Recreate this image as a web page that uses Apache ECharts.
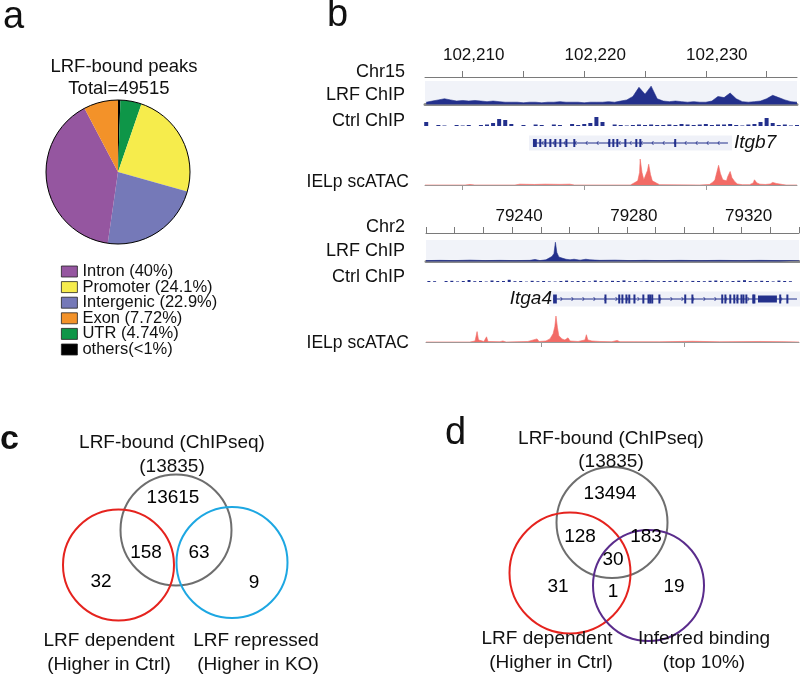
<!DOCTYPE html>
<html><head><meta charset="utf-8">
<script src="https://cdn.jsdelivr.net/npm/echarts@6/dist/echarts.min.js"></script>
<style>html,body{margin:0;padding:0;background:#fff}#c{width:800px;height:676px}</style>
</head><body><div id="c"></div>
<script>
// ---------- Panel a : LRF-bound peak annotation ----------
const pieNames  = ['others(<1%)', 'UTR (4.74%)', 'Promoter (24.1%)', 'Intergenic (22.9%)', 'Intron (40%)', 'Exon (7.72%)'];
const pieValues = [0.54, 4.74, 24.1, 22.9, 40, 7.72];
const legendOrder = ['Intron (40%)', 'Promoter (24.1%)', 'Intergenic (22.9%)', 'Exon (7.72%)', 'UTR (4.74%)', 'others(<1%)'];

// ---------- Panel b : Chr15 (Itgb7) tracks ----------
const chr15Range = [102206.9, 102237.5];
const chr15RulerTicks = [102210, 102215, 102220, 102225, 102230, 102235];
const chr15RulerLabels = [102210, 102220, 102230];
const chr15BottomTicks = [102210, 102220, 102230];
const chr15BinStart = 102207.0, chr15BinSize = 0.5;
const chr15Lrf = [2,3,4,5,4,3,3.5,3,3.5,3,2.5,3,2.5,2,2,2,1.5,2,2,1.5,2,2,2.5,2,2,2,1.5,2,2,2,2.5,2,3,4,7,15,9,16,5,3,2.5,3,2.5,2,2.5,2,2,3,7,6,10,5,2.5,2,2.5,3,5,8,6,4,2.5,2];
const chr15Ctrl = [4,0,1,0.5,0,1,0.5,1,0,1,1.5,3,7,6,2,0,1,0,1.5,1,0,1.5,1,0,2,1,2,3,9,4,0,1.5,1,0.5,1,1.5,1,1.5,1,1,1.5,1,2,1.5,1,1.5,2,1,1.5,1.5,2,1,0.5,1.5,2,4,8,3,1,1.5,0.5,1];
const chr15AtacPos = [102206.9,102210.2,102210.6,102211.0,102214.3,102214.7,102215.9,102216.8,102218.0,102218.8,102219.2,102223.8,102224.1,102224.4,102224.55,102224.6,102224.75,102224.9,102225.0,102225.2,102225.3,102225.45,102225.6,102226.0,102226.2,102229.5,102230.3,102230.6,102230.75,102230.9,102231.05,102231.2,102231.4,102231.7,102231.8,102232.0,102232.15,102232.4,102232.6,102233.0,102233.6,102233.9,102234.0,102234.2,102234.45,102234.9,102235.3,102235.5,102235.8,102236.3,102236.6,102237.5];
const chr15AtacVal = [0,0,0.5,0,0,0.8,0.5,0.8,0.6,0.8,0,0,2,4,12,25,12,5,6,14,20,10,4,1.5,0.3,0,0.5,3,5,12,19,11,5,4,8,13,7,3,1,0.3,0.3,2,5,2,0.8,0.5,1,2.5,1.5,0.5,0,0];
const itgb7Span = [102215.78, 102231.82];
const itgb7Exons = [[102215.78,102216.1],[102216.3,102216.42],[102216.72,102216.84],[102217.13,102217.25],[102217.54,102217.66],[102217.95,102218.07],[102218.45,102218.57],[102219.1,102219.22],[102221.98,102222.1],[102222.31,102222.43],[102222.64,102222.76],[102223.3,102223.42],[102224.2,102224.32],[102224.53,102224.65],[102227.4,102227.55]];

// ---------- Panel b : Chr2 (Itga4) tracks ----------
const chr2Range = [79210, 79340];
const chr2RulerTicks = [79210,79220,79230,79240,79250,79260,79270,79280,79290,79300,79310,79320,79330,79340];
const chr2RulerLabels = [79240, 79280, 79320];
const chr2BottomTicks = [79250, 79300];
const chr2LrfPos = [79210.0,79214.9,79220.1,79225.3,79230.6,79235.8,79241.0,79246.2,79248.0,79249.7,79251.8,79252.9,79253.9,79254.6,79255.1,79255.6,79256.3,79257.4,79258.8,79260.2,79261.6,79263.7,79265.7,79267.1,79270.6,79275.9,79281.1,79286.3,79291.5,79298.5,79305.5,79312.4,79319.4,79326.4,79333.3,79340.0];
const chr2LrfVal = [0.8,1,0.8,1.2,0.8,1,0.8,1,1.8,0.8,1.5,3,4.5,7,17,8,4,3,2,1.5,2,1.2,2,1.5,1,1.2,0.8,1,0.8,1,0.8,1,0.8,1,0.8,0.8];
const chr2CtrlBinStart = 79211, chr2CtrlBinSize = 2;
const chr2Ctrl = [1,0.8,0,1,1.2,0.6,1,2,0.8,1,0.5,1.5,1,1,2.2,0.8,1,0.4,1.2,0.8,1,0.6,0.5,1,1.4,0.8,1,1,0.6,1.5,1,0.8,1.2,1,1.6,0.8,1,0.5,1,1.2,0.7,1,0.9,1.3,1,0.6,1.1,1,0.8,1.2,1.5,1,0.7,1,1.3,1.8,1,0.8,1.2,1,0.6,1.4,1,0.8];
const chr2AtacPos = [79210.0,79225.3,79227.1,79227.8,79228.3,79230.2,79231.1,79231.6,79235.8,79236.8,79237.9,79245.5,79248.7,79249.4,79251.8,79253.2,79254.3,79254.9,79255.3,79255.8,79256.3,79257.4,79258.4,79259.5,79260.2,79263.0,79265.4,79265.9,79266.4,79267.8,79270.6,79274.8,79276.6,79277.6,79291.5,79303.0,79312.4,79326.4,79335.1,79340.0];
const chr2AtacVal = [0,0,1,10,2,0.5,5,0.5,0.3,1,0,0.5,3,0.5,1,3,8,15,25,14,6,3,2,4,1,0.5,2,7,2,1,0.5,0.3,1.5,0.3,0.2,0.7,0.2,0.5,0.3,0];
const itga4Span = [79254.3, 79339.3];
const itga4Exons = [[79254.3,79255.6],[79272.2,79272.7],[79277.0,79277.5],[79278.1,79278.6],[79279.5,79280.0],[79280.5,79281.0],[79282.3,79282.8],[79285.4,79285.9],[79287.2,79287.7],[79287.8,79288.3],[79288.5,79289.0],[79291.0,79291.5],[79300.0,79300.5],[79302.5,79303.0],[79312.9,79313.4],[79314.0,79314.5],[79315.7,79316.2],[79317.1,79317.6],[79318.2,79318.7],[79319.6,79320.1],[79320.3,79320.8],[79321.3,79321.8],[79323.7,79324.2],[79324.1,79324.6],[79325.7,79332.3],[79333.1,79333.6],[79335.6,79336.1]];

// ---------- Panels c, d : Venn counts ----------
const vennCTitle = ['LRF-bound (ChIPseq)', '(13835)'];
const vennCCounts = [13615, 158, 63, 32, 9];
const vennCSetNames = [['LRF dependent', '(Higher in Ctrl)'], ['LRF repressed', '(Higher in KO)']];
const vennDTitle = ['LRF-bound (ChIPseq)', '(13835)'];
const vennDCounts = [13494, 128, 183, 30, 31, 1, 19];
const vennDSetNames = [['LRF dependent', '(Higher in Ctrl)'], ['Inferred binding', '(top 10%)']];

// ================= layout & style (not data) =================
const FONT = '"Liberation Sans", Arial, Helvetica, sans-serif';
const NAVY = '#23308C';
const SALMON = '#F26B66';
const pieColors = {'others(<1%)':'#000000','UTR (4.74%)':'#0E9648','Promoter (24.1%)':'#F6EC4C','Intergenic (22.9%)':'#7579B8','Intron (40%)':'#9556A0','Exon (7.72%)':'#F39229'};
// venn geometry in canvas units (mapped through the hidden full-canvas grid)
const vennCCircles = [[176,530,55.5,'#6E6E6E'],[118.5,565,55.5,'#E5231E'],[232,562.5,55.5,'#1DA7E2']];
const vennCAnchors = [[173,498],[146,553],[199,553],[101,582],[254,583]];
const vennDCircles = [[612,522.5,55.5,'#6E6E6E'],[570,573,60.5,'#E5231E'],[648.5,585.5,55.5,'#5A2C8C']];
const vennDAnchors = [[610,494],[580,537],[646,537],[613,560],[558,587],[613,592],[674,587]];

const comma = v => Math.round(v).toString().replace(/\B(?=(\d{3})+(?!\d))/g, ',');

const grids = [
  {left:0, top:0, width:800, height:676},                    // 0 venn canvas
  {left:425, top:76, width:372, height:1},                    // 1 chr15 ruler
  {left:425, top:81, width:372, height:23.5, show:true, backgroundColor:'#F1F3F9', borderWidth:0}, // 2 chr15 LRF
  {left:425, top:112, width:372, height:14},                  // 3 chr15 Ctrl
  {left:425, top:136, width:372, height:14},                  // 4 chr15 gene
  {left:425, top:158, width:372, height:27},                  // 5 chr15 ATAC
  {left:426, top:232, width:373, height:1},                   // 6 chr2 ruler
  {left:426, top:240, width:373, height:21.5, show:true, backgroundColor:'#F1F3F9', borderWidth:0}, // 7 chr2 LRF
  {left:426, top:272, width:373, height:10},                  // 8 chr2 Ctrl
  {left:426, top:292, width:373, height:14},                  // 9 chr2 gene
  {left:426, top:315, width:373, height:27}                   // 10 chr2 ATAC
];

function hiddenX(g, r){ return {type:'value', gridIndex:g, min:r[0], max:r[1], show:false}; }
function hiddenY(g, min, max, inverse){ return {type:'value', gridIndex:g, min:min, max:max, show:false, inverse:!!inverse}; }
function rulerX(g, r, ticks, labels, fmt, pad, margin){
  return {type:'value', gridIndex:g, min:r[0], max:r[1], position:'top',
    axisLine:{show:true, lineStyle:{color:'#7a7a7a', width:1}},
    axisTick:{show:true, customValues:ticks, length:6, lineStyle:{color:'#7a7a7a', width:1}},
    axisLabel:{show:true, customValues:labels, formatter:fmt, fontSize:17, fontFamily:FONT, color:'#111', margin:margin, padding:[0,0,0,pad]},
    splitLine:{show:false}};
}
function barX(g, r){
  return {type:'value', gridIndex:g, min:r[0], max:r[1], position:'top',
    axisLine:{show:true, lineStyle:{color:'#8a8a8a', width:3}},
    axisTick:{show:false}, axisLabel:{show:false}, splitLine:{show:false}};
}
function bottomX(g, r, ticks){
  return {type:'value', gridIndex:g, min:r[0], max:r[1], position:'bottom',
    axisLine:{show:true, lineStyle:{color:'#9a9a9a', width:1}},
    axisTick:{show:true, customValues:ticks, length:5, lineStyle:{color:'#9a9a9a'}},
    axisLabel:{show:false}, splitLine:{show:false}};
}

const xAxes = [
  hiddenX(0,[0,800]),
  rulerX(1, chr15Range, chr15RulerTicks, chr15RulerLabels, comma, 22, 12),
  barX(2, chr15Range),
  hiddenX(3, chr15Range),
  hiddenX(4, chr15Range),
  bottomX(5, chr15Range, chr15BottomTicks),
  rulerX(6, chr2Range, chr2RulerTicks, chr2RulerLabels, v => String(Math.round(v)), 14, 7),
  barX(7, chr2Range),
  hiddenX(8, chr2Range),
  hiddenX(9, chr2Range),
  bottomX(10, chr2Range, chr2BottomTicks)
];
const yAxes = [
  hiddenY(0,0,676,true),
  hiddenY(1,0,1),
  hiddenY(2,0,20.5),
  hiddenY(3,0,14),
  hiddenY(4,0,1),
  hiddenY(5,0,26),
  hiddenY(6,0,1),
  hiddenY(7,0,19),
  hiddenY(8,0,10),
  hiddenY(9,0,1),
  hiddenY(10,0,26)
];

function areaTrack(idx, data, color){
  return {type:'line', xAxisIndex:idx, yAxisIndex:idx, data:data, symbol:'none', silent:true,
    lineStyle:{color:color, width:0.6}, itemStyle:{color:color}, areaStyle:{color:color, opacity:1}, animation:false};
}
function barTrack(idx, data, color, w){
  return {type:'bar', xAxisIndex:idx, yAxisIndex:idx, data:data, barWidth:w, silent:true,
    itemStyle:{color:color}, animation:false};
}
function geneLine(idx, span, strand){
  return {type:'custom', xAxisIndex:idx, yAxisIndex:idx, silent:true, animation:false, data:[span],
    renderItem:function(params, api){
      const s = api.coord([api.value(0), 0.5]); const e = api.coord([api.value(1), 0.5]);
      const cy = s[1];
      const ch = [
        {type:'rect', shape:{x:s[0]-4, y:cy-7.5, width:e[0]-s[0]+8, height:15}, style:{fill:'#EFF1F8'}},
        {type:'line', shape:{x1:s[0], y1:cy, x2:e[0], y2:cy}, style:{stroke:NAVY, lineWidth:1}}
      ];
      for (let x = s[0]+9; x < e[0]-4; x += 11) {
        const pts = strand < 0 ? [[x+1.5,cy-2],[x,cy],[x+1.5,cy+2]] : [[x-1.5,cy-2],[x,cy],[x-1.5,cy+2]];
        ch.push({type:'polyline', shape:{points:pts}, style:{stroke:NAVY, fill:null, lineWidth:0.8}});
      }
      return {type:'group', children:ch};
    }};
}
function geneExons(idx, exons, h){
  return {type:'custom', xAxisIndex:idx, yAxisIndex:idx, silent:true, animation:false, data:exons, z:3,
    renderItem:function(params, api){
      const s = api.coord([api.value(0), 0.5]); const e = api.coord([api.value(1), 0.5]);
      const w = Math.max(2, e[0]-s[0]);
      const hh = (e[0]-s[0]) > 10 ? h-2 : h;
      return {type:'rect', shape:{x:s[0], y:s[1]-hh/2, width:w, height:hh}, style:{fill:NAVY}};
    }};
}
function circles(list){
  return {type:'custom', xAxisIndex:0, yAxisIndex:0, silent:true, animation:false, data:list.map(c => [c[0], c[1], c[2]]), z:2,
    renderItem:function(params, api){
      const c = api.coord([api.value(0), api.value(1)]);
      const r = api.size([api.value(2), 0])[0];
      return {type:'circle', shape:{cx:c[0], cy:c[1], r:r}, style:{fill:null, stroke:list[params.dataIndex][3], lineWidth:2}};
    }};
}
function counts(anchors, vals){
  return {type:'scatter', xAxisIndex:0, yAxisIndex:0, silent:true, animation:false, symbolSize:1, z:4,
    itemStyle:{color:'rgba(0,0,0,0)'},
    data:anchors.map((p,i) => ({value:[p[0], p[1]], name:String(vals[i])})),
    label:{show:true, position:'inside', formatter:p => p.name, fontSize:19, fontFamily:FONT, color:'#000', opacity:1}};
}

function txt(text, x, y, opt){
  opt = opt || {};
  return {type:'text', silent:true, z:10, style:{text:text, x:x, y:y, fill:'#111', fontFamily:FONT,
    fontSize:opt.size || 18, fontStyle:opt.italic ? 'italic' : 'normal', fontWeight:opt.bold ? 'bold':'normal',
    align:opt.align || 'center', verticalAlign:'middle'}};
}

const graphics = [
  txt('a', 3, 18, {size:38, align:'left'}),
  txt('b', 327, 16, {size:38, align:'left'}),
  txt('c', 0, 440, {size:34, align:'left', bold:true}),
  txt('d', 445, 434, {size:38, align:'left'}),
  txt('LRF-bound peaks', 124, 67, {size:18.5}),
  txt('Total=49515', 119, 89, {size:18.5}),
  // track labels
  txt('Chr15', 405, 72, {align:'right'}),
  txt('LRF ChIP', 405, 95, {align:'right'}),
  txt('Ctrl ChIP', 405, 121, {align:'right'}),
  txt('IELp scATAC', 409, 182, {align:'right', size:17.5}),
  txt('Itgb7', 734, 143, {size:19, italic:true, align:'left'}),
  txt('Chr2', 405, 227, {align:'right'}),
  txt('LRF ChIP', 405, 251, {align:'right'}),
  txt('Ctrl ChIP', 405, 277, {align:'right'}),
  txt('Itga4', 552, 299, {size:19, italic:true, align:'right'}),
  txt('IELp scATAC', 409, 343, {align:'right', size:17.5}),
  // venn c
  txt(vennCTitle[0], 172, 443, {size:19}),
  txt(vennCTitle[1], 172, 467, {size:19}),
  txt(vennCSetNames[0][0], 109, 641, {size:19}),
  txt(vennCSetNames[0][1], 109, 665, {size:19}),
  txt(vennCSetNames[1][0], 256, 641, {size:19}),
  txt(vennCSetNames[1][1], 258, 665, {size:19}),
  // venn d
  txt(vennDTitle[0], 611, 439, {size:19}),
  txt(vennDTitle[1], 611, 462, {size:19}),
  txt(vennDSetNames[0][0], 547, 639, {size:19}),
  txt(vennDSetNames[0][1], 551, 663, {size:19}),
  txt(vennDSetNames[1][0], 704, 639, {size:19}),
  txt(vennDSetNames[1][1], 704, 663, {size:19})
];

const chart = echarts.init(document.getElementById('c'), null, {renderer:'canvas'});
chart.setOption({
  animation:false,
  backgroundColor:'#ffffff',
  textStyle:{fontFamily:FONT},
  grid:grids,
  xAxis:xAxes,
  yAxis:yAxes,
  polar:{center:[118,172], radius:72},
  angleAxis:{axisLine:{show:true, lineStyle:{color:'#000', width:1}}, axisTick:{show:false}, axisLabel:{show:false}, splitLine:{show:false}, z:5, min:0, max:1},
  radiusAxis:{show:false, min:0, max:1},
  legend:{data:legendOrder, orient:'vertical', left:56, top:258, itemWidth:16, itemHeight:11, itemGap:-1.4,
    selectedMode:false, icon:'rect',
    itemStyle:{borderColor:'#222', borderWidth:0.8},
    textStyle:{fontSize:16.5, fontFamily:FONT, color:'#111', lineHeight:15}},
  graphic:graphics,
  series:[
    {type:'pie', center:[118,172], radius:72, startAngle:90, clockwise:true, silent:true,
      label:{show:false}, labelLine:{show:false}, itemStyle:{borderWidth:0},
      data:pieNames.map((n,i) => ({name:n, value:pieValues[i], itemStyle:{color:pieColors[n]}}))},
    areaTrack(2, chr15Lrf.map((v,i) => [chr15BinStart + i*chr15BinSize, v]), NAVY),
    barTrack(3, chr15Ctrl.map((v,i) => [chr15BinStart + i*chr15BinSize, v]), NAVY, 4),
    geneLine(4, itgb7Span, -1),
    geneExons(4, itgb7Exons, 8),
    areaTrack(5, chr15AtacPos.map((p,i) => [p, chr15AtacVal[i]]), SALMON),
    areaTrack(7, chr2LrfPos.map((p,i) => [p, chr2LrfVal[i]]), NAVY),
    barTrack(8, chr2Ctrl.map((v,i) => [chr2CtrlBinStart + i*chr2CtrlBinSize, v]), NAVY, 3),
    geneLine(9, itga4Span, 1),
    geneExons(9, itga4Exons, 9),
    areaTrack(10, chr2AtacPos.map((p,i) => [p, chr2AtacVal[i]]), SALMON),
    circles(vennCCircles),
    circles(vennDCircles),
    counts(vennCAnchors, vennCCounts),
    counts(vennDAnchors, vennDCounts)
  ]
});
</script>
</body></html>
